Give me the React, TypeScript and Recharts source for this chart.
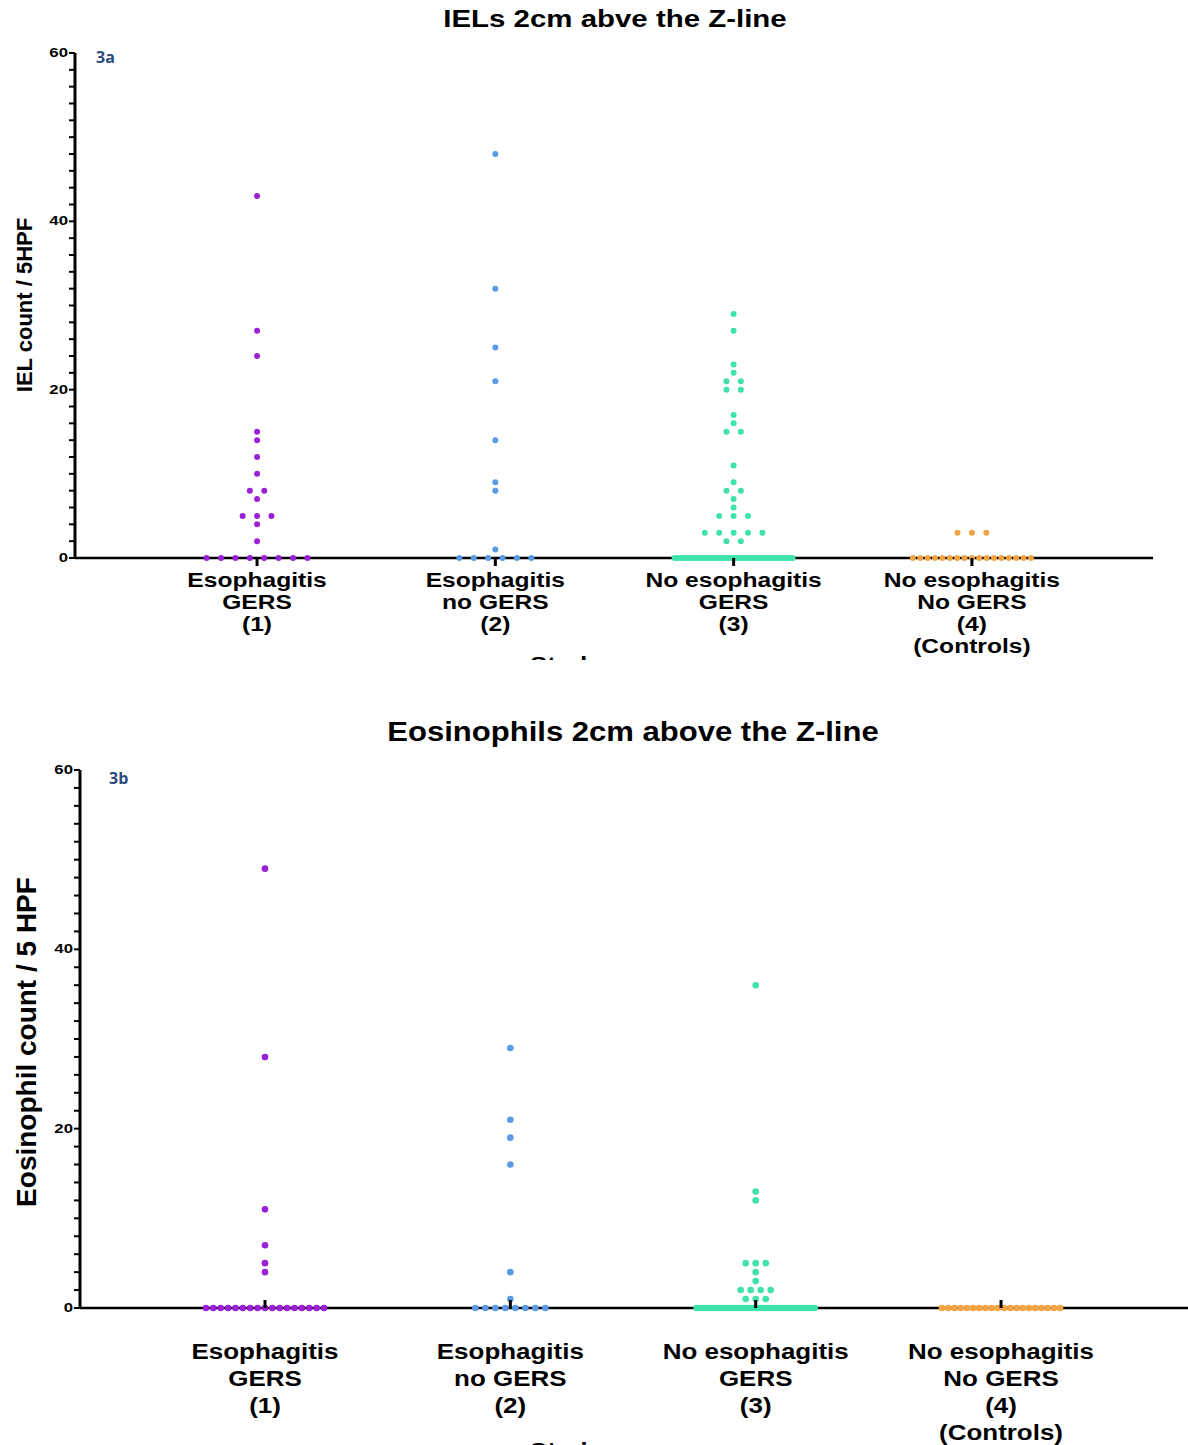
import React from "react";
import { ScatterChart, Scatter, XAxis, YAxis } from "recharts";

// ─── Data ────────────────────────────────────────────────────────────────────

const groupLabels = [
  ["Esophagitis", "GERS", "(1)"],
  ["Esophagitis", "no GERS", "(2)"],
  ["No esophagitis", "GERS", "(3)"],
  ["No esophagitis", "No GERS", "(4)", "(Controls)"],
];

const groupColors = ["#9b1fd6", "#5b9be6", "#40e2ac", "#f2a444"];

const yTicks = [
  0, 2, 4, 6, 8, 10, 12, 14, 16, 18, 20, 22, 24, 26, 28, 30, 32, 34, 36, 38, 40, 42, 44, 46, 48, 50, 52, 54,
  56, 58, 60,
];
const yMajorTicks = [0, 20, 40, 60];
const xTicks = [1, 2, 3, 4];

// 3a: IELs 2cm above the Z-line
const ielGroup1 = [43, 27, 24, 15, 14, 12, 10, 8, 8, 7, 5, 5, 5, 4, 2, 0, 0, 0, 0, 0, 0, 0, 0];
const ielGroup2 = [48, 32, 25, 21, 14, 9, 8, 1, 0, 0, 0, 0, 0, 0];
const ielGroup3 = [
  29, 27, 23, 22, 21, 21, 20, 20, 17, 16, 15, 15, 11, 9, 8, 8, 7, 6, 5, 5, 5, 3, 3, 3, 3, 3, 2, 2, 0, 0, 0, 0,
  0, 0, 0, 0, 0, 0, 0, 0, 0, 0, 0, 0, 0, 0, 0, 0, 0, 0, 0, 0, 0, 0, 0, 0, 0, 0, 0, 0, 0, 0, 0, 0, 0, 0, 0, 0,
];
const ielGroup4 = [3, 3, 3, 0, 0, 0, 0, 0, 0, 0, 0, 0, 0, 0, 0, 0, 0, 0, 0, 0];

// 3b: Eosinophils 2cm above the Z-line
const eosGroup1 = [49, 28, 11, 7, 5, 4, 0, 0, 0, 0, 0, 0, 0, 0, 0, 0, 0, 0, 0, 0, 0, 0, 0];
const eosGroup2 = [29, 21, 19, 16, 4, 1, 0, 0, 0, 0, 0, 0, 0, 0];
const eosGroup3 = [
  36, 13, 12, 5, 5, 5, 4, 3, 2, 2, 2, 2, 1, 1, 1, 0, 0, 0, 0, 0, 0, 0, 0, 0, 0, 0, 0, 0, 0, 0, 0, 0, 0, 0, 0,
  0, 0, 0, 0, 0, 0, 0, 0, 0, 0, 0, 0, 0, 0, 0, 0, 0, 0, 0, 0,
];
const eosGroup4 = [0, 0, 0, 0, 0, 0, 0, 0, 0, 0, 0, 0, 0, 0, 0, 0, 0, 0, 0, 0];

const ielGroups = [ielGroup1, ielGroup2, ielGroup3, ielGroup4];
const eosGroups = [eosGroup1, eosGroup2, eosGroup3, eosGroup4];

// ─── Helpers ─────────────────────────────────────────────────────────────────

const FONT = "'Liberation Sans', Arial, sans-serif";

// the source figure uses a wide grotesque, so stretch Arial horizontally
const stretch = (x: number, s: number) => `matrix(${s},0,0,1,${x * (1 - s)},0)`;

// beeswarm-style spread of tied values around the group centre
function swarm(values: number[], group: number, stepPx: number, maxWidthPx: number, pxPerUnit: number) {
  const counts: Record<number, number> = {};
  values.forEach((v) => (counts[v] = (counts[v] || 0) + 1));
  const seen: Record<number, number> = {};
  return values.map((v) => {
    const k = counts[v];
    const i = seen[v] || 0;
    seen[v] = i + 1;
    const step = k > 1 ? Math.min(stepPx, maxWidthPx / (k - 1)) : 0;
    return { x: group + ((i - (k - 1) / 2) * step) / pxPerUnit, y: v };
  });
}

const dot = (color: string, r: number) => (p: any) =>
  p.cx == null ? <g /> : <circle cx={p.cx} cy={p.cy} r={r} fill={color} />;

function CategoryTick(props: any) {
  const { x, y, payload, fontSize, lineHeight, firstOffset, tickUp, scaleX } = props;
  const lines = groupLabels[payload.value - 1] || [];
  return (
    <g>
      <line x1={x} x2={x} y1={tickUp ? y - 8 : y} y2={tickUp ? y : y + 8} stroke="#000" strokeWidth={3} />
      <text
        textAnchor="middle"
        fontFamily={FONT}
        fontWeight="bold"
        fontSize={fontSize}
        fill="#000"
        transform={stretch(x, scaleX)}
      >
        {lines.map((l: string, i: number) => (
          <tspan key={i} x={x} y={y + firstOffset + i * lineHeight}>
            {l}
          </tspan>
        ))}
      </text>
    </g>
  );
}

function ValueTick(props: any) {
  const { x, y, payload } = props;
  if (!yMajorTicks.includes(payload.value)) return <g />;
  return (
    <text
      x={x}
      y={y}
      textAnchor="end"
      dominantBaseline="central"
      fontFamily={FONT}
      fontWeight="bold"
      fontSize={12}
      fill="#000"
      transform={stretch(x, 1.4)}
    >
      {payload.value}
    </text>
  );
}

interface PanelProps {
  groups: number[][];
  height: number;
  top: number;
  axisWidth: number;
  rightMargin: number;
  xAxisHeight: number;
  domain: [number, number];
  pxPerUnit: number;
  stepPx: number;
  dotR: number;
  tickFont: number;
  tickScale: number;
  tickLine: number;
  tickFirst: number;
  tickUp: boolean;
  title: string;
  titleY: number;
  titleX: number;
  titleSize: number;
  titleScale: number;
  tag: string;
  tagX: number;
  tagY: number;
  yLabel: string;
  yLabelX: number;
  yLabelY: number;
  yLabelSize: number;
  studyY: number;
  studySize: number;
}

function Panel(p: PanelProps) {
  return (
    <div style={{ width: 1188, height: p.height, overflow: "hidden" }}>
      <ScatterChart
        width={1188}
        height={p.height}
        margin={{ top: p.top, right: p.rightMargin, left: 0, bottom: 0 }}
      >
        <XAxis
          type="number"
          dataKey="x"
          domain={p.domain}
          ticks={xTicks}
          allowDataOverflow
          height={p.xAxisHeight}
          axisLine={{ stroke: "#000", strokeWidth: 2.5 }}
          tickLine={false}
          tickSize={0}
          tickMargin={0}
          interval={0}
          tick={(t: any) => (
            <CategoryTick
              {...t}
              fontSize={p.tickFont}
              scaleX={p.tickScale}
              lineHeight={p.tickLine}
              firstOffset={p.tickFirst}
              tickUp={p.tickUp}
            />
          )}
        />
        <YAxis
          type="number"
          dataKey="y"
          domain={[0, 60]}
          ticks={yTicks}
          interval={0}
          width={p.axisWidth}
          axisLine={{ stroke: "#000", strokeWidth: 3 }}
          tickLine={{ stroke: "#000", strokeWidth: 2 }}
          tickSize={6}
          tickMargin={1}
          tick={(t: any) => <ValueTick {...t} />}
        />
        {p.groups.map((g, gi) => (
          <Scatter
            key={gi}
            data={swarm(g, gi + 1, p.stepPx, 118, p.pxPerUnit)}
            shape={dot(groupColors[gi], p.dotR)}
            isAnimationActive={false}
          />
        ))}
        <text
          x={p.titleX}
          y={p.titleY}
          textAnchor="middle"
          fontFamily={FONT}
          fontWeight="bold"
          fontSize={p.titleSize}
          fill="#000"
          transform={stretch(p.titleX, p.titleScale)}
        >
          {p.title}
        </text>
        <text
          x={p.tagX}
          y={p.tagY}
          fontFamily="'Open Sans', sans-serif"
          fontWeight="bold"
          fontSize={16}
          fill="#2b4a80"
        >
          {p.tag}
        </text>
        <text
          x={p.yLabelX}
          y={p.yLabelY}
          transform={`rotate(-90, ${p.yLabelX}, ${p.yLabelY})`}
          textAnchor="middle"
          dominantBaseline="central"
          fontFamily={FONT}
          fontWeight="bold"
          fontSize={p.yLabelSize}
          fill="#000"
        >
          {p.yLabel}
        </text>
        <text
          x={530}
          y={p.studyY}
          fontFamily={FONT}
          fontWeight="bold"
          fontSize={p.studySize}
          fill="#000"
          transform={stretch(530, p.tickScale)}
        >
          Study group
        </text>
      </ScatterChart>
    </div>
  );
}

export default function App() {
  return (
    <div
      style={{
        position: "absolute",
        left: 0,
        top: 0,
        width: 1188,
        height: 1445,
        background: "#fff",
        overflow: "hidden",
      }}
    >
      <Panel
        groups={ielGroups}
        height={660}
        top={53}
        axisWidth={75}
        rightMargin={35}
        xAxisHeight={102}
        domain={[0.236, 4.76]}
        pxPerUnit={238.3}
        stepPx={14.4}
        dotR={3}
        tickFont={20}
        tickScale={1.23}
        tickLine={22}
        tickFirst={29}
        tickUp={false}
        title="IELs 2cm abve the Z-line"
        titleX={615}
        titleY={27}
        titleSize={23}
        titleScale={1.28}
        tag="3a"
        tagX={96}
        tagY={63}
        yLabel="IEL count / 5HPF"
        yLabelX={24}
        yLabelY={305}
        yLabelSize={22}
        studyY={671}
        studySize={21}
      />
      <Panel
        groups={eosGroups}
        height={785}
        top={110}
        axisWidth={80}
        rightMargin={0}
        xAxisHeight={137}
        domain={[0.246, 4.762]}
        pxPerUnit={245.3}
        stepPx={10}
        dotR={3.3}
        tickFont={22}
        tickScale={1.18}
        tickLine={27}
        tickFirst={51}
        tickUp={true}
        title="Eosinophils 2cm above the Z-line"
        titleX={633}
        titleY={81}
        titleSize={27}
        titleScale={1.15}
        tag="3b"
        tagX={109}
        tagY={124}
        yLabel="Eosinophil count / 5 HPF"
        yLabelX={26}
        yLabelY={382}
        yLabelSize={28}
        studyY={798}
        studySize={22}
      />
    </div>
  );
}
